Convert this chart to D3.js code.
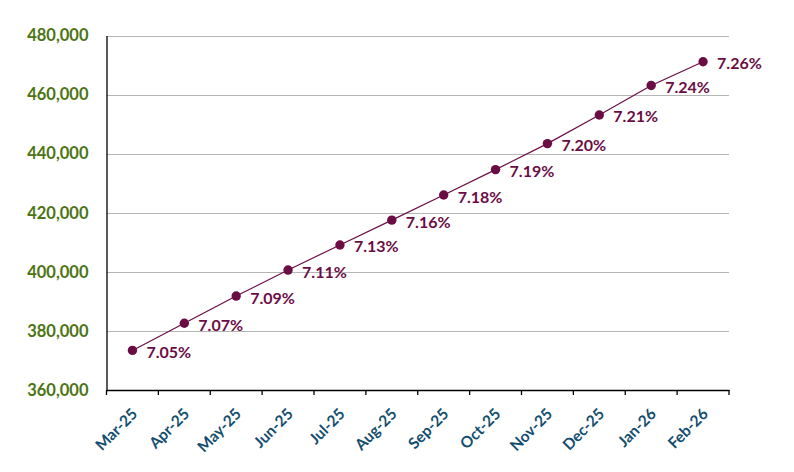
<!DOCTYPE html>
<html>
<head>
<meta charset="utf-8">
<script src="https://cdn.jsdelivr.net/npm/d3@7"></script>
<style>
  body { margin: 0; background: #fff; }
  svg text { font-family: Lato, "Open Sans", sans-serif; font-weight: bold; }
</style>
</head>
<body>
<div id="chart"></div>
<script>
// chart data
var months = ["Mar-25", "Apr-25", "May-25", "Jun-25", "Jul-25", "Aug-25",
              "Sep-25", "Oct-25", "Nov-25", "Dec-25", "Jan-26", "Feb-26"];
var totals = [373400, 382600, 391800, 400600, 409100, 417500,
              426000, 434600, 443400, 453100, 463100, 471100];
var rates = ["7.05%", "7.07%", "7.09%", "7.11%", "7.13%", "7.16%",
             "7.18%", "7.19%", "7.20%", "7.21%", "7.24%", "7.26%"];
var yTicks = [360000, 380000, 400000, 420000, 440000, 460000, 480000];

var width = 794, height = 472;
var margin = {top: 35.5, right: 65, bottom: 82, left: 106.5};
var lineColor = "#6b0d45";

var svg = d3.select("#chart")
  .append("svg")
  .attr("width", width)
  .attr("height", height);

var x = d3.scaleBand()
  .domain(months)
  .range([margin.left, width - margin.right]);

var y = d3.scaleLinear()
  .domain([360000, 480000])
  .range([height - margin.bottom, margin.top]);

// gridlines
svg.append("g")
  .selectAll("line")
  .data(yTicks.slice(1))
  .enter().append("line")
    .attr("x1", margin.left)
    .attr("x2", width - margin.right)
    .attr("y1", function(d) { return Math.round(y(d)) + 0.5; })
    .attr("y2", function(d) { return Math.round(y(d)) + 0.5; })
    .style("stroke", "#b5b5b5")
    .style("stroke-width", 1);

// y axis
var yAxis = svg.append("g")
  .attr("transform", "translate(" + margin.left + ",0)")
  .call(d3.axisLeft(y).tickValues(yTicks).tickSize(0).tickPadding(18).tickFormat(d3.format(",")));
yAxis.select(".domain").style("stroke", "#000").style("stroke-width", 1.3);
yAxis.selectAll("text")
  .style("fill", "#4c7413")
  .style("font-size", "16.5px");

// x axis
var xAxis = svg.append("g")
  .attr("transform", "translate(0," + (height - margin.bottom) + ")")
  .call(d3.axisBottom(x).tickSize(0).tickPadding(0));
xAxis.select(".domain").style("stroke", "#000").style("stroke-width", 1.5);
xAxis.selectAll("text")
  .style("fill", "#144e6e")
  .style("font-size", "15.5px")
  .style("text-anchor", "end")
  .attr("dy", 0)
  .attr("transform", "translate(6,25) rotate(-45)");

// tick marks at band edges
svg.append("g")
  .selectAll("line")
  .data(months.concat(["end"]))
  .enter().append("line")
    .attr("x1", function(d, i) { return margin.left + i * x.step(); })
    .attr("x2", function(d, i) { return margin.left + i * x.step(); })
    .attr("y1", height - margin.bottom)
    .attr("y2", height - margin.bottom + 5)
    .style("stroke", "#000")
    .style("stroke-width", 1.3);

var cx = function(d, i) { return x(months[i]) + x.bandwidth() / 2; };

// line
var line = d3.line()
  .x(function(d, i) { return cx(d, i); })
  .y(function(d) { return y(d); });

svg.append("path")
  .datum(totals)
  .attr("d", line)
  .style("fill", "none")
  .style("stroke", lineColor)
  .style("stroke-width", 1.2);

// points
svg.append("g")
  .selectAll("circle")
  .data(totals)
  .enter().append("circle")
    .attr("cx", cx)
    .attr("cy", function(d) { return y(d); })
    .attr("r", 4.7)
    .style("fill", lineColor);

// rate labels
svg.append("g")
  .selectAll("text")
  .data(totals)
  .enter().append("text")
    .attr("x", function(d, i) { return cx(d, i) + 14; })
    .attr("y", function(d) { return y(d) + 7.5; })
    .style("fill", lineColor)
    .style("font-size", "16px")
    .text(function(d, i) { return rates[i]; });
</script>
</body>
</html>
